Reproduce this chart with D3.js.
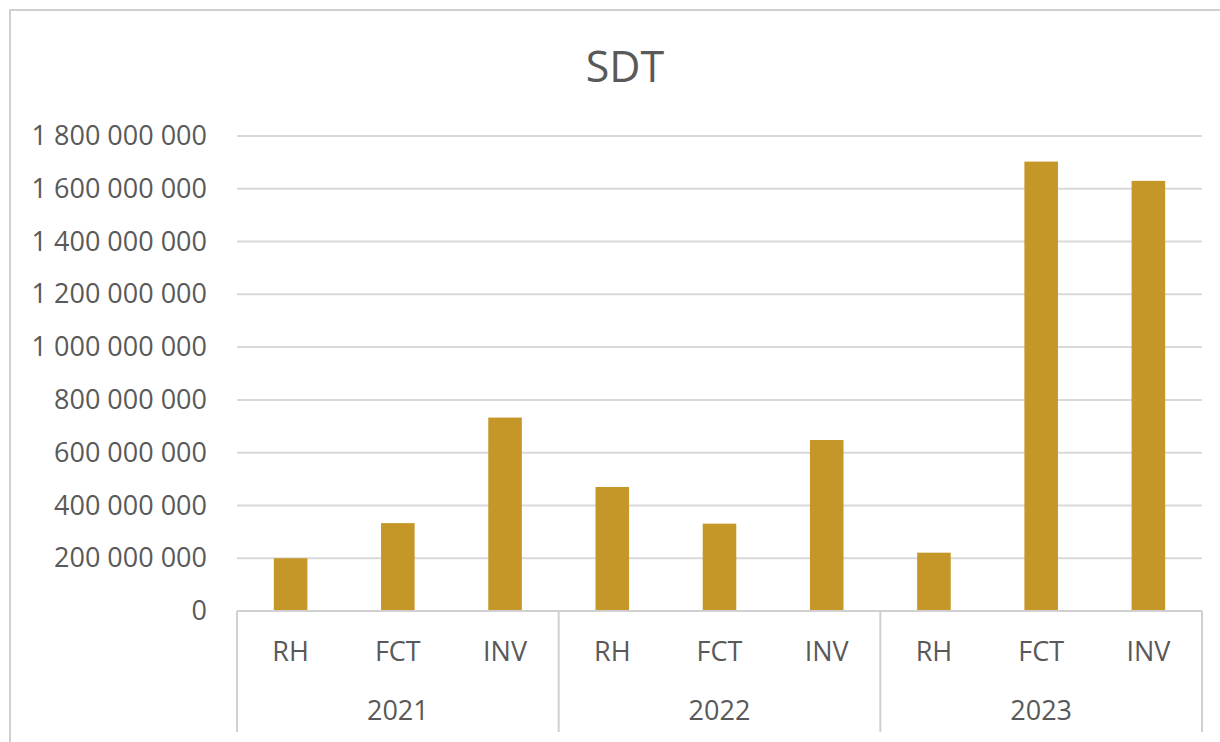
<!DOCTYPE html>
<html>
<head>
<meta charset="utf-8">
<script src="https://cdn.jsdelivr.net/npm/d3@7"></script>
<style>
  body { margin: 0; background: #fff; }
  svg { display: block; font-family: "Open Sans", "Noto Sans", sans-serif; }
</style>
</head>
<body>
<svg id="chart" width="1220" height="742"></svg>
<script>
// data
const years = ["2021", "2022", "2023"];
const categories = ["RH", "FCT", "INV"];
const values2021 = [200e6, 333e6, 733e6];
const values2022 = [470e6, 331e6, 648e6];
const values2023 = [221e6, 1703e6, 1630e6];
const yTicks = [0, 200e6, 400e6, 600e6, 800e6, 1000e6, 1200e6, 1400e6, 1600e6, 1800e6];
const chartTitle = "SDT";

const seriesByYear = [values2021, values2022, values2023];
const rows = [];
years.forEach((yr, i) => {
    categories.forEach((c, j) => {
        rows.push({ year: yr, cat: c, value: seriesByYear[i][j] });
    });
});

const svg = d3.select("#chart");
const width = 1220, height = 742;
const plot = { left: 237, right: 1202, top: 136, bottom: 611 };
const textColor = "#595959";
const lineColor = "#d9d9d9";
const barColor = "#c59628";
const fontSize = 27;

svg.append("rect").attr("width", width).attr("height", height).attr("fill", "#fff");

// chart area border (only top and left are visible in the crop)
svg.append("path")
    .attr("d", `M10,${height} L10,10 L${width},10`)
    .attr("fill", "none")
    .attr("stroke", "#d0d0d0")
    .attr("stroke-width", 2);

const locale = d3.formatLocale({ decimal: ",", thousands: " ", grouping: [3], currency: ["", ""] });
const fmt = locale.format(",");

const y = d3.scaleLinear()
    .domain([0, 1800e6])
    .range([plot.bottom, plot.top]);

const xYear = d3.scaleBand()
    .domain(years)
    .range([plot.left, plot.right])
    .padding(0);

const xCat = d3.scaleBand()
    .domain(categories)
    .range([0, xYear.bandwidth()])
    .paddingInner(0.687)
    .paddingOuter(0.687 / 2);

// gridlines
svg.append("g")
    .selectAll("line")
    .data(yTicks.filter(d => d > 0))
    .join("line")
    .attr("x1", plot.left)
    .attr("x2", plot.right)
    .attr("y1", d => y(d))
    .attr("y2", d => y(d))
    .attr("stroke", lineColor)
    .attr("stroke-width", 2);

// y axis labels
const yAxis = svg.append("g")
    .attr("transform", `translate(207,0)`)
    .call(d3.axisLeft(y).tickValues(yTicks).tickFormat(fmt).tickSize(0).tickPadding(0));
yAxis.select(".domain").remove();
yAxis.selectAll("text")
    .attr("fill", textColor)
    .attr("font-size", fontSize)
    .attr("font-family", "'Open Sans', sans-serif");

// bars
svg.append("g")
    .selectAll("rect")
    .data(rows)
    .join("rect")
    .attr("x", d => xYear(d.year) + xCat(d.cat))
    .attr("width", xCat.bandwidth())
    .attr("y", d => y(d.value))
    .attr("height", d => y(0) - y(d.value))
    .attr("fill", barColor);

// category axis: baseline and group separators
svg.append("line")
    .attr("x1", plot.left).attr("x2", plot.right)
    .attr("y1", plot.bottom).attr("y2", plot.bottom)
    .attr("stroke", "#d0d0d0")
    .attr("stroke-width", 2);

const sepX = years.map(yr => xYear(yr)).concat([xYear.range()[1]]);
svg.append("g")
    .selectAll("line")
    .data(sepX)
    .join("line")
    .attr("x1", d => d).attr("x2", d => d)
    .attr("y1", plot.bottom).attr("y2", 732)
    .attr("stroke", "#d0d0d0")
    .attr("stroke-width", 2);

// inner labels
svg.append("g")
    .selectAll("text")
    .data(rows)
    .join("text")
    .attr("x", d => xYear(d.year) + xCat(d.cat) + xCat.bandwidth() / 2)
    .attr("y", 661)
    .attr("text-anchor", "middle")
    .attr("font-size", fontSize)
    .attr("fill", textColor)
    .text(d => d.cat);

// year labels
svg.append("g")
    .selectAll("text")
    .data(years)
    .join("text")
    .attr("x", d => xYear(d) + xYear.bandwidth() / 2)
    .attr("y", 720)
    .attr("text-anchor", "middle")
    .attr("font-size", fontSize)
    .attr("fill", textColor)
    .text(d => d);

// title
svg.append("text")
    .attr("x", 625)
    .attr("y", 82)
    .attr("text-anchor", "middle")
    .attr("font-size", 43)
    .attr("fill", textColor)
    .text(chartTitle);
</script>
</body>
</html>
